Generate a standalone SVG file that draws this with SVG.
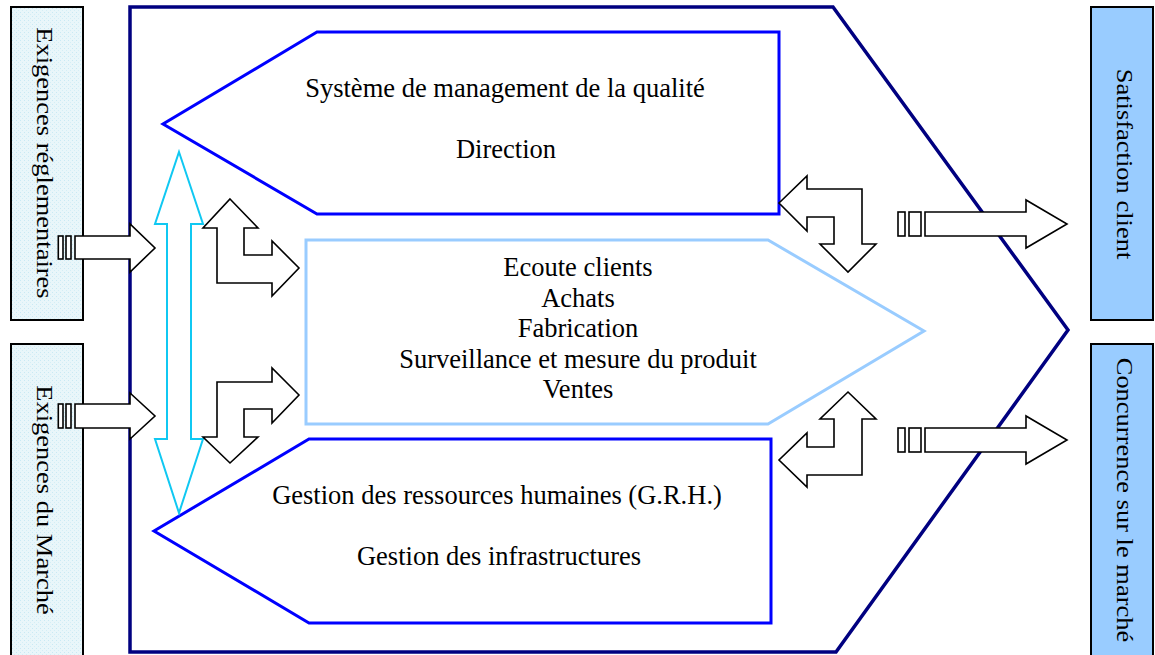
<svg xmlns="http://www.w3.org/2000/svg" width="1155" height="655" viewBox="0 0 1155 655">
  <defs>
    <pattern id="grain" width="4" height="4" patternUnits="userSpaceOnUse">
      <rect width="4" height="4" fill="#e9f6fa"/>
      <rect x="0" y="0" width="1" height="1" fill="#c9e9f4"/>
      <rect x="2" y="2" width="1" height="1" fill="#d4eef6"/>
    </pattern>
    <style>
      text { font-family: "Liberation Serif", "Times New Roman", serif; font-size: 26.5px; fill: #000; }
      .mid { text-anchor: middle; }
      .side-in { fill: url(#grain); stroke: #000; stroke-width: 2; }
      .side-out { fill: #99ccff; stroke: #000; stroke-width: 2; }
      .frame { fill: #fff; stroke: #000080; stroke-width: 3.5; stroke-linejoin: miter; }
      .blue { fill: #fff; stroke: #0000ff; stroke-width: 3; }
      .pale { fill: #fff; stroke: #99ccff; stroke-width: 3; }
      .arrow { fill: #fff; stroke: #000; stroke-width: 1.6; stroke-linejoin: miter; }
      .cyan { fill: #fff; stroke: #10c8f2; stroke-width: 2; }
    </style>
  </defs>

  <rect width="1155" height="655" fill="#fff"/>

  <!-- outer process frame -->
  <g id="frame">
    <polygon class="frame" points="130,7 833,7 1068,330 836,652 130,652"/>
  </g>

  <!-- inputs -->
  <g id="input-regl">
    <rect class="side-in" x="11" y="7" width="72" height="313"/>
    <text class="mid" transform="translate(36.5,163) rotate(90) scale(1,0.85)">Exigences réglementaires</text>
  </g>
  <g id="input-marche">
    <rect class="side-in" x="11" y="344" width="72" height="330"/>
    <text class="mid" transform="translate(36.5,500) rotate(90) scale(1,0.85)">Exigences du Marché</text>
  </g>

  <!-- outputs -->
  <g id="output-satisfaction">
    <rect class="side-out" x="1091" y="7" width="62" height="313"/>
    <text class="mid" transform="translate(1117,164) rotate(90) scale(1,0.85)">Satisfaction client</text>
  </g>
  <g id="output-concurrence">
    <rect class="side-out" x="1091" y="344" width="62" height="330"/>
    <text class="mid" transform="translate(1117,500) rotate(90) scale(1,0.85)">Concurrence sur le marché</text>
  </g>

  <!-- management processes -->
  <g id="management">
    <polygon class="blue" points="317,32 779,32 779,214 317,214 163,124"/>
    <text class="mid" x="505" y="97">Système de management de la qualité</text>
    <text class="mid" x="506" y="158">Direction</text>
  </g>

  <!-- realisation processes -->
  <g id="realisation">
    <polygon class="pale" points="306,240 768,240 924,331 768,424 306,424"/>
    <text class="mid" x="578" y="276">Ecoute clients</text>
    <text class="mid" x="578" y="306.5">Achats</text>
    <text class="mid" x="578" y="337">Fabrication</text>
    <text class="mid" x="578" y="367.5">Surveillance et mesure du produit</text>
    <text class="mid" x="578" y="398">Ventes</text>
  </g>

  <!-- support processes -->
  <g id="support">
    <polygon class="blue" points="309,439 771,439 771,623 309,623 154,531"/>
    <text class="mid" x="497" y="504">Gestion des ressources humaines (G.R.H.)</text>
    <text class="mid" x="499" y="565">Gestion des infrastructures</text>
  </g>

  <g id="connectors">
    <!-- vertical two-way link between management and support -->
    <polygon class="cyan" points="179,152 203,224 191,224 191,439 203,439 179,513 155,439 167,439 167,224 155,224"/>

    <!-- incoming requirements -->
    <g>
      <rect class="arrow" x="58.3" y="236" width="4.7" height="23"/>
      <rect class="arrow" x="66" y="236" width="5" height="23"/>
      <polygon class="arrow" points="75,236 130,236 130,224 155,248 130,272 130,259 75,259"/>
    </g>
    <g>
      <rect class="arrow" x="58.3" y="404" width="4.7" height="24"/>
      <rect class="arrow" x="66" y="404" width="5" height="24"/>
      <polygon class="arrow" points="75,404 130,404 130,393 155,416 130,439 130,428 75,428"/>
    </g>

    <!-- bent two-way links on the left -->
    <polygon class="arrow" points="230,199 258,228 244,228 244,255 272,255 272,241 299,268 272,296 272,283 217,283 217,228 203,228"/>
    <polygon class="arrow" points="299,395 272,368 272,382 217,382 217,437 203,437 230,463 258,437 244,437 244,409 272,409 272,423"/>

    <!-- bent two-way links on the right -->
    <polygon class="arrow" points="779,203 807,176 807,189 862,189 862,244 876,244 848,272 820,244 834,244 834,217 807,217 807,231"/>
    <polygon class="arrow" points="848,392 876,419 862,419 862,475 807,475 807,487 779,460 807,433 807,447 834,447 834,419 820,419"/>

    <!-- outgoing results -->
    <g>
      <rect class="arrow" x="898" y="212" width="7" height="24"/>
      <rect class="arrow" x="909" y="212" width="12" height="24"/>
      <polygon class="arrow" points="925,212 1026,212 1026,200 1067,224 1026,248 1026,236 925,236"/>
    </g>
    <g>
      <rect class="arrow" x="898" y="428" width="7" height="24"/>
      <rect class="arrow" x="909" y="428" width="12" height="24"/>
      <polygon class="arrow" points="925,428 1026,428 1026,416 1067,440 1026,464 1026,452 925,452"/>
    </g>
  </g>
</svg>
